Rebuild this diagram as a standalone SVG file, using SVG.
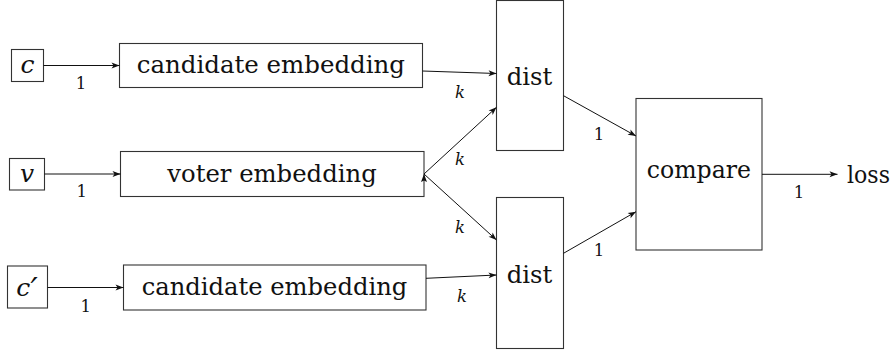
<svg xmlns="http://www.w3.org/2000/svg" width="896" height="353" viewBox="0 0 896 353">
<defs>
<marker id="ah" markerUnits="userSpaceOnUse" markerWidth="12" markerHeight="10" viewBox="-9 -5 10 10" refX="0" refY="0" orient="auto">
<path d="M0,0 L-8,-3 L-6,0 L-8,3 Z" fill="#111"/>
</marker>
<style>
.box{fill:#fff;stroke:#333;stroke-width:1.1}
.edge{fill:none;stroke:#111;stroke-width:1;marker-end:url(#ah)}
text{font-family:'DejaVu Serif',serif;fill:#111}
.t{font-size:24.5px}
.m{font-size:25px;font-style:italic;text-anchor:middle}
.s{font-size:16.5px;text-anchor:middle}
.k{font-size:16.5px;font-style:italic;text-anchor:middle}
</style>
</defs>
<rect width="896" height="353" fill="#fff"/>
<g id="in_c">
<rect class="box" x="11.5" y="49.5" width="32" height="32"/>
<text class="m" x="27.5" y="73.3">c</text>
</g>
<g id="in_v">
<rect class="box" x="9.5" y="158.5" width="35" height="31.5"/>
<text class="m" x="27" y="181.7">v</text>
</g>
<g id="in_c2">
<rect class="box" x="7.5" y="266" width="40" height="42"/>
<text class="m" x="27" y="295.5">c<tspan font-size="32" dy="4">′</tspan></text>
</g>
<g id="cand1">
<rect class="box" x="119.5" y="43.5" width="303" height="44"/>
<text class="t" x="136.7" y="73.3" textLength="268.3" lengthAdjust="spacingAndGlyphs">candidate embedding</text>
</g>
<g id="voter">
<rect class="box" x="120.5" y="151.5" width="303.5" height="45"/>
<text class="t" x="167.3" y="181.7" textLength="209.4" lengthAdjust="spacingAndGlyphs">voter embedding</text>
</g>
<g id="cand2">
<rect class="box" x="123.5" y="265" width="302.5" height="45"/>
<text class="t" x="141.7" y="295" textLength="265.6" lengthAdjust="spacingAndGlyphs">candidate embedding</text>
</g>
<g id="dist1">
<rect class="box" x="496.5" y="0.5" width="67" height="150"/>
<text class="t" x="506.7" y="85" textLength="45.6" lengthAdjust="spacingAndGlyphs">dist</text>
</g>
<g id="dist2">
<rect class="box" x="496.5" y="197.5" width="67" height="151"/>
<text class="t" x="506.7" y="283.3" textLength="45.6" lengthAdjust="spacingAndGlyphs">dist</text>
</g>
<g id="compare">
<rect class="box" x="636" y="98.5" width="126" height="151.5"/>
<text class="t" x="646.7" y="178.3" textLength="104.3" lengthAdjust="spacingAndGlyphs">compare</text>
</g>
<g id="loss">
<text class="t" x="847" y="183.3" textLength="43" lengthAdjust="spacingAndGlyphs">loss</text>
</g>
<g id="connectors">
<line class="edge" x1="43.5" y1="65.5" x2="119.5" y2="65.5"/>
<line class="edge" x1="44.5" y1="174" x2="120.5" y2="174"/>
<line class="edge" x1="47.5" y1="287.5" x2="123.5" y2="287.5"/>
<line class="edge" x1="422.5" y1="71" x2="496.5" y2="73.5"/>
<line class="edge" x1="424" y1="174" x2="496.5" y2="107.3"/>
<line class="edge" x1="424" y1="174" x2="496.5" y2="240"/>
<line class="edge" x1="426" y1="278.3" x2="496.5" y2="275"/>
<line class="edge" x1="563.5" y1="95.7" x2="636" y2="136"/>
<line class="edge" x1="563.5" y1="253.3" x2="636" y2="211.7"/>
<line class="edge" x1="762" y1="174.3" x2="837.5" y2="174.3"/>
<path d="M424,174 L421,182 L424,180.5 L427,182 Z" fill="#111"/>
<text class="s" x="81" y="89.3">1</text>
<text class="s" x="81.7" y="197.3">1</text>
<text class="s" x="85.7" y="311.7">1</text>
<text class="k" x="460" y="98.3">k</text>
<text class="k" x="460" y="165">k</text>
<text class="k" x="460" y="233.3">k</text>
<text class="k" x="462" y="301.7">k</text>
<text class="s" x="599" y="140">1</text>
<text class="s" x="599" y="256">1</text>
<text class="s" x="799" y="198.3">1</text>
</g>
</svg>
